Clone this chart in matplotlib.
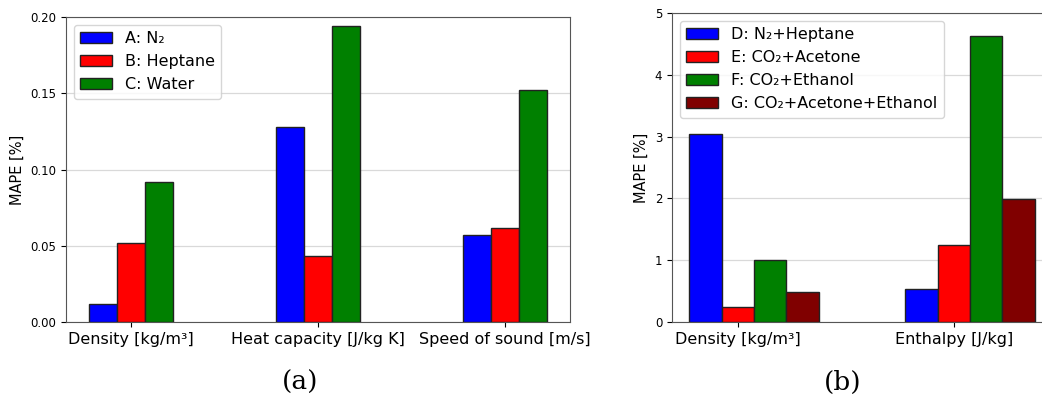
import numpy as np
import matplotlib
matplotlib.use("Agg")
import matplotlib.pyplot as plt

# panel (a): pure fluids
props_a = ["Density [kg/m³]", "Heat capacity [J/kg K]", "Speed of sound [m/s]"]
n2 = [0.0116, 0.128, 0.0573]
heptane = [0.052, 0.0433, 0.0616]
water = [0.0918, 0.194, 0.152]

# panel (b): mixtures
props_b = ["Density [kg/m³]", "Enthalpy [J/kg]"]
n2_heptane = [3.05, 0.534]
co2_acetone = [0.243, 1.25]
co2_ethanol = [1.01, 4.63]
co2_acetone_ethanol = [0.48, 1.985]

width = 0.15
edge = "#222222"

fig = plt.figure(figsize=(10.42, 4.01), dpi=100)
ax1 = fig.add_axes([0.0633, 0.197, 0.4837, 0.7606])
ax2 = fig.add_axes([0.6449, 0.197, 0.3647, 0.7706])

x = np.arange(len(props_a))
series_a = [(n2, "blue", "A: N₂"), (heptane, "red", "B: Heptane"), (water, "green", "C: Water")]
for i, (vals, col, lab) in enumerate(series_a):
    ax1.bar(x + (i - 1) * width, vals, width, color=col, edgecolor=edge, linewidth=1, label=lab, zorder=3)
ax1.set_ylim(0, 0.2)
ax1.set_yticks([0, 0.05, 0.10, 0.15, 0.20])
ax1.set_yticklabels(["0.00", "0.05", "0.10", "0.15", "0.20"])
ax1.set_xticks(x)
ax1.set_xticklabels(props_a, fontsize=11.5)
ax1.set_ylabel("MAPE [%]", fontsize=10.5)
ax1.legend(loc="upper left", fontsize=11.5, handlelength=2.0)

x2 = np.arange(len(props_b))
series_b = [
    (n2_heptane, "blue", "D: N₂+Heptane"),
    (co2_acetone, "red", "E: CO₂+Acetone"),
    (co2_ethanol, "green", "F: CO₂+Ethanol"),
    (co2_acetone_ethanol, "maroon", "G: CO₂+Acetone+Ethanol"),
]
for i, (vals, col, lab) in enumerate(series_b):
    ax2.bar(x2 + (i - 1) * width, vals, width, color=col, edgecolor=edge, linewidth=1, label=lab, zorder=3)
ax2.set_ylim(0, 5)
ax2.set_yticks([0, 1, 2, 3, 4, 5])
ax2.set_xticks(x2)
ax2.set_xticklabels(props_b, fontsize=11.5)
ax2.set_ylabel("MAPE [%]", fontsize=10.5)
ax2.legend(loc="upper left", fontsize=11.5, handlelength=2.0)

for ax in (ax1, ax2):
    ax.grid(axis="y", color="#d9d9d9", linewidth=0.9, zorder=0)
    ax.tick_params(axis="y", labelsize=8.5)
    for s in ax.spines.values():
        s.set_color("#555555")

fig.text(0.288, 0.047, "(a)", fontsize=19, family="DejaVu Serif", ha="center", va="center")
fig.text(0.809, 0.047, "(b)", fontsize=19, family="DejaVu Serif", ha="center", va="center")

fig.savefig("out.png", dpi=100)
